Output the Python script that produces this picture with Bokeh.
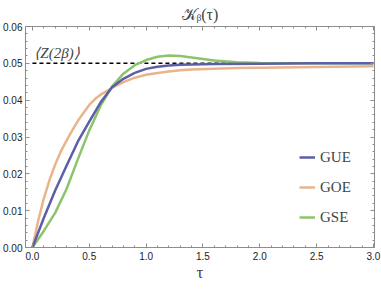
from bokeh.plotting import figure
from bokeh.models import (Range1d, LinearAxis, SingleIntervalTicker, Legend, LegendItem, Label,
                          PrintfTickFormatter)
from bokeh.embed import file_html
from bokeh.resources import INLINE

# ---- data ----
tau_goe = [0.0, 0.05, 0.1, 0.15, 0.2, 0.25, 0.3, 0.35, 0.4, 0.45, 0.5, 0.55, 0.6, 0.7, 0.8,
           0.9, 1.0, 1.1, 1.2, 1.3, 1.4, 1.6, 1.8, 2.0, 2.5, 3.0]
k_goe = [0.0, 0.0072, 0.0133, 0.0183, 0.0225, 0.0261, 0.0290, 0.0318, 0.0344, 0.0366, 0.0387,
         0.0403, 0.0415, 0.0433, 0.0449, 0.0461, 0.0469, 0.0474, 0.0478, 0.0481, 0.0483,
         0.0485, 0.0487, 0.0488, 0.0490, 0.0492]

tau_gue = [0.0, 0.1, 0.2, 0.3, 0.4, 0.5, 0.6, 0.7, 0.8, 0.9, 1.0, 1.1, 1.2, 1.3, 1.4, 1.6,
           2.0, 2.5, 3.0]
k_gue = [0.0, 0.0080, 0.0155, 0.0222, 0.0288, 0.0342, 0.0394, 0.0435, 0.0458, 0.0474, 0.0485,
         0.0491, 0.0494, 0.0496, 0.0497, 0.0498, 0.0499, 0.0500, 0.0500]

tau_gse = [0.0, 0.1, 0.2, 0.3, 0.4, 0.5, 0.6, 0.7, 0.8, 0.9, 1.0, 1.1, 1.2, 1.3, 1.4, 1.5,
           1.6, 1.8, 2.0, 2.5, 3.0]
k_gse = [0.0, 0.0045, 0.0094, 0.0159, 0.0240, 0.0318, 0.0385, 0.0437, 0.0472, 0.0495, 0.0509,
         0.0518, 0.0521, 0.0520, 0.0516, 0.0512, 0.0508, 0.0503, 0.0501, 0.0500, 0.0500]

z2beta = 0.05
tau_span = [0.0, 3.0]

x_ticks_interval = 0.5
y_ticks_interval = 0.01

C_GUE = "#5d5fa6"
C_GOE = "#e8b48c"
C_GSE = "#8cc46c"
FRAME = "#8c8c8c"
SERIF = "Liberation Serif"

p = figure(width=381, height=289, output_backend="svg", toolbar_location=None,
           x_range=Range1d(-0.061, 3.009), y_range=Range1d(0, 0.06),
           min_border_left=0, min_border_right=7, min_border_top=26, min_border_bottom=42)
p.title.text = "𝒦ᵦ(τ)"
p.title.align = "center"
p.title.text_font = SERIF
p.title.text_font_size = "16px"
p.title.text_font_style = "normal"
p.title.standoff = 7
p.outline_line_color = FRAME
p.xgrid.visible = False
p.ygrid.visible = False
p.background_fill_color = "white"
p.border_fill_color = "white"

def style_axis(ax, interval, show_labels=True):
    ax.ticker = SingleIntervalTicker(interval=interval, num_minor_ticks=5)
    ax.axis_line_color = FRAME
    ax.major_tick_line_color = FRAME
    ax.minor_tick_line_color = FRAME
    ax.major_tick_in = 4
    ax.major_tick_out = 0
    ax.minor_tick_in = 2
    ax.minor_tick_out = 0
    ax.major_label_text_font = "Liberation Sans"
    ax.major_label_text_line_height = 1.0
    if show_labels:
        ax.major_label_text_font_size = "10px"
        ax.major_label_text_color = "#222222"
        ax.major_label_standoff = 3
    else:
        ax.major_label_text_font_size = "1px"
        ax.major_label_text_color = None
        ax.major_label_standoff = 0

style_axis(p.xaxis[0], x_ticks_interval)
style_axis(p.yaxis[0], y_ticks_interval)
p.xaxis[0].major_label_standoff = 4
p.xaxis[0].formatter = PrintfTickFormatter(format="%.1f")
p.yaxis[0].formatter = PrintfTickFormatter(format="%.2f")
p.xaxis.axis_label = "τ"
p.xaxis.axis_label_text_font = SERIF
p.xaxis.axis_label_text_font_size = "17px"
p.xaxis.axis_label_text_font_style = "normal"
p.xaxis.axis_label_text_line_height = 0.8
p.xaxis.axis_label_standoff = 0

top = LinearAxis()
right = LinearAxis()
style_axis(top, x_ticks_interval, False)
style_axis(right, y_ticks_interval, False)
p.add_layout(top, "above")
p.add_layout(right, "right")

p.line(tau_span, [z2beta, z2beta], line_color="black", line_width=1.5, line_dash="4 3")
r_goe = p.line(tau_goe, k_goe, line_color=C_GOE, line_width=2.5)
r_gse = p.line(tau_gse, k_gse, line_color=C_GSE, line_width=2.5)
r_gue = p.line(tau_gue, k_gue, line_color=C_GUE, line_width=2.5)

lab = Label(x=0.017, y=0.0528, text="⟨Z(2β)⟩", text_font=SERIF,
            text_font_size="15px", text_font_style="italic", text_baseline="middle")
p.add_layout(lab)

legend = Legend(items=[LegendItem(label="GUE", renderers=[r_gue]),
                       LegendItem(label="GOE", renderers=[r_goe]),
                       LegendItem(label="GSE", renderers=[r_gse])],
                location=(274, 20), background_fill_alpha=0, border_line_alpha=0,
                padding=0, spacing=10, glyph_width=16, glyph_height=20, label_height=20,
                label_standoff=5, label_text_font=SERIF, label_text_font_size="15px")
p.add_layout(legend)

open("out.html", "w").write(file_html(p, INLINE))
